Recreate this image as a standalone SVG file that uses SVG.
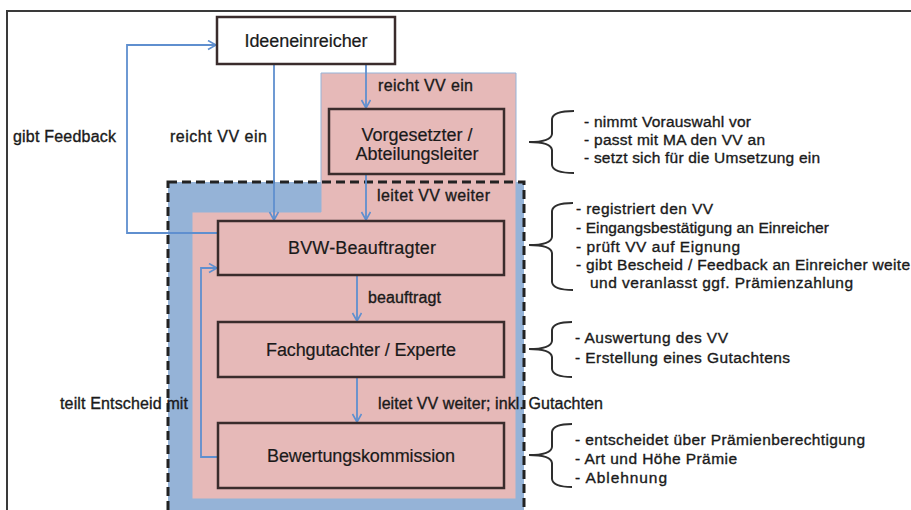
<svg xmlns="http://www.w3.org/2000/svg" width="911" height="510" viewBox="0 0 911 510">
<style>
text{font-family:"Liberation Sans",Arial,sans-serif;fill:#1a1a1a;stroke:#1a1a1a;stroke-width:0.35}
.box{fill:#e6b9b8;stroke:#3a2c2c;stroke-width:2.5}
.lbl{font-size:18px;text-anchor:middle;stroke-width:0.2}
.cl{font-size:16px}
.note{font-size:15.5px}
.con{fill:none;stroke:#5f8fcf;stroke-width:1.8}
.br{fill:none;stroke:#2e2e2e;stroke-width:2}
</style>
<defs>
<marker id="ah" markerWidth="12" markerHeight="12" refX="9" refY="5" orient="auto" markerUnits="userSpaceOnUse">
<path d="M1,0.5 L9,5 L1,9.5" fill="none" stroke="#5f8fcf" stroke-width="1.6"/>
</marker>
</defs>
<rect width="911" height="510" fill="#ffffff"/>
<path d="M7,510 V11 H911" fill="none" stroke="#3a3a3a" stroke-width="2"/>
<g id="areas">
<rect x="168" y="182" width="356" height="340" fill="#95b3d7"/>
<path d="M321,73 H516 V499 H192 V212 H321 Z" fill="#e6b9b8" stroke="#95b3d7" stroke-width="1"/>
<rect x="168" y="182" width="356" height="340" fill="none" stroke="#222" stroke-width="3" stroke-dasharray="9 5"/>
</g>
<g id="connectors">
<path class="con" d="M274,64 V220" marker-end="url(#ah)"/>
<path class="con" d="M366,64 V108" marker-end="url(#ah)"/>
<path class="con" d="M366,174 V220" marker-end="url(#ah)"/>
<path class="con" d="M218,233 H127 V45 H216" marker-end="url(#ah)"/>
<path class="con" d="M357,275 V321" marker-end="url(#ah)"/>
<path class="con" d="M357,377 V422" marker-end="url(#ah)"/>
<path class="con" d="M218,457 H201 V268 H217" marker-end="url(#ah)"/>
<text class="cl" x="378" y="91" textLength="95" lengthAdjust="spacing">reicht VV ein</text>
<text class="cl" x="170" y="142" textLength="97" lengthAdjust="spacing">reicht VV ein</text>
<text class="cl" x="13" y="142" textLength="103" lengthAdjust="spacing">gibt Feedback</text>
<text class="cl" x="377" y="201" textLength="113" lengthAdjust="spacing">leitet VV weiter</text>
<text class="cl" x="368" y="303" textLength="73" lengthAdjust="spacing">beauftragt</text>
<text class="cl" x="378" y="409" textLength="225" lengthAdjust="spacing">leitet VV weiter; inkl. Gutachten</text>
<text class="cl" x="60" y="409" textLength="128" lengthAdjust="spacing">teilt Entscheid mit</text>
</g>
<g id="ideeneinreicher">
<rect x="217" y="17" width="178" height="47" fill="#ffffff" stroke="#3a2c2c" stroke-width="2.5"/>
<text class="lbl" x="306" y="47" textLength="123" lengthAdjust="spacing">Ideeneinreicher</text>
</g>
<g id="vorgesetzter">
<rect class="box" x="329" y="109" width="175" height="65"/>
<text class="lbl" x="417" y="141" textLength="111" lengthAdjust="spacing">Vorgesetzter /</text>
<text class="lbl" x="417" y="160" textLength="123" lengthAdjust="spacing">Abteilungsleiter</text>
</g>
<g id="bvw-beauftragter">
<rect class="box" x="218" y="221" width="286" height="54"/>
<text class="lbl" x="362" y="254" textLength="148" lengthAdjust="spacing">BVW-Beauftragter</text>
</g>
<g id="fachgutachter">
<rect class="box" x="218" y="322" width="286" height="55"/>
<text class="lbl" x="361" y="356" textLength="190" lengthAdjust="spacing">Fachgutachter / Experte</text>
</g>
<g id="bewertungskommission">
<rect class="box" x="218" y="423" width="286" height="65"/>
<text class="lbl" x="361" y="462" textLength="188" lengthAdjust="spacing">Bewertungskommission</text>
</g>
<g id="note-vorgesetzter">
<path class="br" d="M574,111 Q553,111 552,119 V134 Q551,142 529,142 Q551,142 552,150 V165 Q553,173 574,173"/>
<text class="note" x="584" y="127" textLength="167" lengthAdjust="spacing">- nimmt Vorauswahl vor</text>
<text class="note" x="584" y="145" textLength="181" lengthAdjust="spacing">- passt mit MA den VV an</text>
<text class="note" x="584" y="163" textLength="236" lengthAdjust="spacing">- setzt sich für die Umsetzung ein</text>
</g>
<g id="note-bvw">
<path class="br" d="M573,203 Q553,203 552,211 V237 Q551,245 529,245 Q551,245 552,253 V282 Q553,290 573,290"/>
<text class="note" x="576" y="214" textLength="137" lengthAdjust="spacing">- registriert den VV</text>
<text class="note" x="576" y="233" textLength="253" lengthAdjust="spacing">- Eingangsbestätigung an Einreicher</text>
<text class="note" x="576" y="252" textLength="164" lengthAdjust="spacing">- prüft VV auf Eignung</text>
<text class="note" x="576" y="270" textLength="334" lengthAdjust="spacing">- gibt Bescheid / Feedback an Einreicher weite</text>
<text class="note" x="590" y="288" textLength="263" lengthAdjust="spacing">und veranlasst ggf. Prämienzahlung</text>
</g>
<g id="note-fachgutachter">
<path class="br" d="M572,322 Q553,322 552,330 V341 Q551,349 529,349 Q551,349 552,357 V369 Q553,377 572,377"/>
<text class="note" x="575" y="343" textLength="153" lengthAdjust="spacing">- Auswertung des VV</text>
<text class="note" x="575" y="363" textLength="215" lengthAdjust="spacing">- Erstellung eines Gutachtens</text>
</g>
<g id="note-bewertung">
<path class="br" d="M572,424 Q553,424 552,432 V447 Q551,455 529,455 Q551,455 552,463 V479 Q553,487 572,487"/>
<text class="note" x="575" y="445" textLength="290" lengthAdjust="spacing">- entscheidet über Prämienberechtigung</text>
<text class="note" x="575" y="464" textLength="162" lengthAdjust="spacing">- Art und Höhe Prämie</text>
<text class="note" x="575" y="483" textLength="92" lengthAdjust="spacing">- Ablehnung</text>
</g>
</svg>
